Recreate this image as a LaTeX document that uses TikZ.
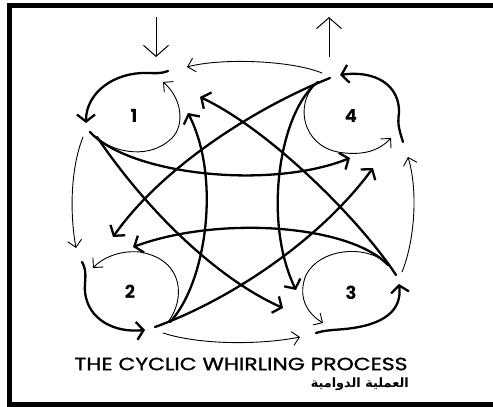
\documentclass[tikz,border=0pt]{standalone}
\usepackage{fontspec}
\usetikzlibrary{arrows.meta}
\TeXXeTstate=1
\newfontfamily\comic{Poppins}
\newfontfamily\comicmid{Poppins}[FakeBold=1.2]
\newfontfamily\arabicfont[Script=Arabic]{DejaVu Sans}
\begin{document}
\begin{tikzpicture}[x=1pt,y=-1pt,
  thickln/.style={line width=2.3pt, line cap=round, -{Straight Barb[length=7pt,width=18pt]}},
  thinln/.style={line width=0.9pt, line cap=round, -{Straight Barb[length=7pt,width=14pt]}},
  bigln/.style={line width=1pt, -{Straight Barb[length=11pt,width=25pt]}},
  num/.style={font=\comic\bfseries\fontsize{18}{18}\selectfont, inner sep=0pt}]
\useasboundingbox (0,0) rectangle (493,407);
% frame
\draw[line width=5pt] (9.5,500) -- (9.5,5.5) -- (520,5.5);
\draw[line width=5pt] (7,404.5) -- (520,404.5);
% labels
\node[num] (n1) at (134,116) {1};
\node[num] (n4) at (351,116) {4};
\node[num] (n2) at (130,292) {2};
\node[num] (n3) at (351,293) {3};
% coordinates
\coordinate (L1a) at (168,71);  \coordinate (L1b) at (86,123);
\coordinate (T1a) at (100,140); \coordinate (T1b) at (163,82);
\coordinate (L4a) at (403,142); \coordinate (L4b) at (340,75);
\coordinate (T4a) at (312,88);  \coordinate (T4b) at (391,138);
\coordinate (L2a) at (82,262);  \coordinate (L2b) at (145,330);
\coordinate (T2a) at (168,322); \coordinate (T2b) at (93,268);
\coordinate (L3a) at (316,333); \coordinate (L3b) at (399,284);
\coordinate (T3a) at (385,262); \coordinate (T3b) at (323,323);
\coordinate (P1) at (90,132);  \coordinate (P1b) at (97,137);
\coordinate (P4) at (330,78);  \coordinate (P4b) at (318,82);
\coordinate (P2) at (155,327); \coordinate (P2b) at (170,322);
\coordinate (P3) at (396,275); \coordinate (P3b) at (388,265);
\coordinate (Ea) at (350,158); \coordinate (Eb) at (283,308);
\coordinate (Ec) at (373,168); \coordinate (Ed) at (188,113);
\coordinate (Ee) at (113,237); \coordinate (Ef) at (296,290);
\coordinate (Eg) at (200,97);  \coordinate (Eh) at (133,247);
\coordinate (Rt1) at (322,73);  \coordinate (Rt2) at (187,67);
\coordinate (Rl1) at (83,137);  \coordinate (Rl2) at (76,248);
\coordinate (Rb1) at (163,333); \coordinate (Rb2) at (300,337);
\coordinate (Rr1) at (402,272); \coordinate (Rr2) at (408,157);
\coordinate (Din1) at (156,17); \coordinate (Din2) at (156,57);
\coordinate (Dout1) at (329,57); \coordinate (Dout2) at (329,17);
% loops thick
\draw[thickln] (L1a) .. controls (160,74) and (155,73) .. (147,73) .. controls (115,72) and (86,92) .. (L1b);
\draw[thickln] (L4a) .. controls (400,132) and (397,125) .. (399,113) .. controls (400,85) and (375,70) .. (L4b);
\draw[thickln] (L2a) .. controls (88,272) and (84,282) .. (85,292) .. controls (88,320) and (115,333) .. (L2b);
\draw[thickln] (L3a) .. controls (325,330) and (335,330) .. (345,329) .. controls (385,325) and (402,310) .. (L3b);
% loops thin
\draw[thinln] (T1a) .. controls (115,152) and (150,160) .. (172,138) .. controls (185,125) and (182,98) .. (T1b);
\draw[thinln] (T4a) .. controls (295,110) and (305,150) .. (345,153) .. controls (365,155) and (380,150) .. (T4b);
\draw[thinln] (T2a) .. controls (185,300) and (185,260) .. (140,252) .. controls (120,250) and (102,258) .. (T2b);
\draw[thinln] (T3a) .. controls (365,245) and (320,248) .. (306,275) .. controls (298,295) and (305,312) .. (T3b);
% cross connectors
\draw[thickln] (P1) .. controls (130,175) and (270,190) .. (Ea);
\draw[thickln] (P1b) .. controls (150,215) and (220,280) .. (Eb);
\draw[thickln] (P2) .. controls (230,300) and (320,240) .. (Ec);
\draw[thickln] (P2b) .. controls (205,285) and (222,180) .. (Ed);
\draw[thickln] (P4) .. controls (250,110) and (160,170) .. (Ee);
\draw[thickln] (P4b) .. controls (280,110) and (262,220) .. (Ef);
\draw[thickln] (P3) .. controls (360,220) and (270,130) .. (Eg);
\draw[thickln] (P3b) .. controls (350,225) and (220,215) .. (Eh);
% perimeter
\draw[thinln] (Rt1) .. controls (290,60) and (220,58) .. (Rt2);
\draw[thinln] (Rl1) .. controls (70,170) and (70,215) .. (Rl2);
\draw[thinln] (Rb1) .. controls (200,345) and (260,345) .. (Rb2);
\draw[thinln] (Rr1) .. controls (415,240) and (418,190) .. (Rr2);
% in / out
\draw[bigln] (Din1) -- (Din2);
\draw[bigln] (Dout1) -- (Dout2);
% titles
\node[inner sep=0pt] (title) at (241,364) {\resizebox{333pt}{12.5pt}{\comicmid\fontsize{18}{18}\selectfont THE CYCLIC WHIRLING PROCESS}};
\node[inner sep=0pt, anchor=east] (arab) at (409,384) {\resizebox{98pt}{!}{\arabicfont\bfseries\fontsize{13}{13}\selectfont\beginR العملية الدوامية\endR}};
\end{tikzpicture}
\end{document}
